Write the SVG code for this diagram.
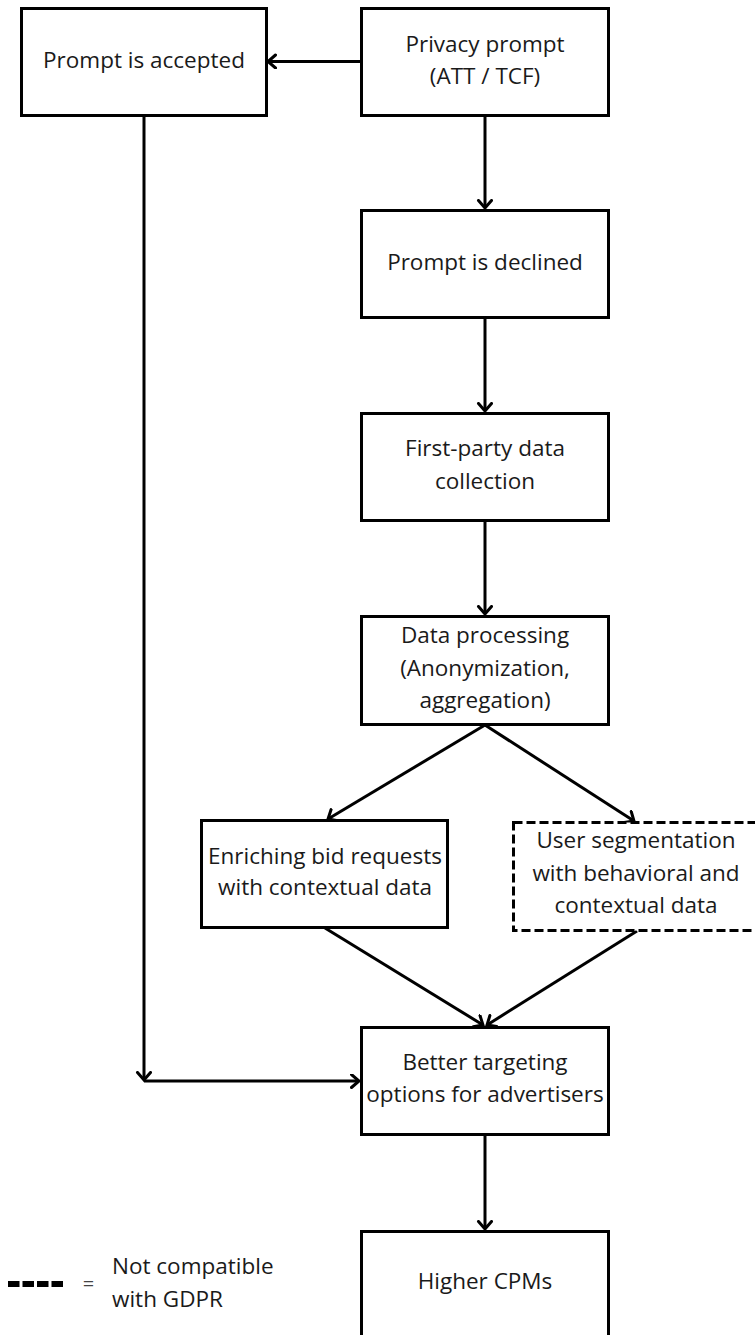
<svg xmlns="http://www.w3.org/2000/svg" width="755" height="1335" viewBox="0 0 755 1335">
<style>
.box{fill:#fff;stroke:#000;stroke-width:3}
.dash{stroke-dasharray:9 4}
.t{font-family:"Open Sans","Lato",sans-serif;font-size:22.5px;fill:#1a1a1a;text-anchor:middle}
.lg{font-family:"Open Sans","Lato",sans-serif;font-size:22.5px;fill:#1a1a1a}
.c{fill:none;stroke:#000;stroke-width:3}
</style>
<defs>
<marker id="ah" markerUnits="userSpaceOnUse" markerWidth="20" markerHeight="20" refX="9" refY="7.5" orient="auto">
<path d="M1.5,1 L9,7.5 L1.5,14" fill="none" stroke="#000" stroke-width="3" stroke-linecap="round" stroke-linejoin="miter"/>
</marker>
</defs>
<rect width="755" height="1335" fill="#fff"/>
<g id="connectors">
<line class="c" x1="361" y1="61.5" x2="268" y2="61.5" marker-end="url(#ah)"/>
<line class="c" x1="485" y1="116" x2="485" y2="208" marker-end="url(#ah)"/>
<line class="c" x1="485" y1="318" x2="485" y2="411" marker-end="url(#ah)"/>
<line class="c" x1="485" y1="521" x2="485" y2="614" marker-end="url(#ah)"/>
<line class="c" x1="485" y1="725" x2="328" y2="819" marker-end="url(#ah)"/>
<line class="c" x1="485" y1="725" x2="634" y2="821" marker-end="url(#ah)"/>
<line class="c" x1="325" y1="928" x2="483" y2="1025" marker-end="url(#ah)"/>
<line class="c" x1="637" y1="931" x2="487" y2="1025" marker-end="url(#ah)"/>
<line class="c" x1="144" y1="116" x2="144" y2="1080" marker-end="url(#ah)"/>
<line class="c" x1="144" y1="1081" x2="359" y2="1081" marker-end="url(#ah)"/>
<line class="c" x1="485" y1="1135" x2="485" y2="1229" marker-end="url(#ah)"/>
</g>
<g id="prompt-accepted">
<rect class="box" x="21.5" y="8.5" width="245" height="107"/>
<text class="t" x="144" y="68">Prompt is accepted</text>
</g>
<g id="privacy-prompt">
<rect class="box" x="361.5" y="8.5" width="247" height="107"/>
<text class="t" x="485" y="52">Privacy prompt</text>
<text class="t" x="485" y="84">(ATT / TCF)</text>
</g>
<g id="prompt-declined">
<rect class="box" x="361.5" y="210.5" width="247" height="107"/>
<text class="t" x="485" y="270">Prompt is declined</text>
</g>
<g id="first-party">
<rect class="box" x="361.5" y="413.5" width="247" height="107"/>
<text class="t" x="485" y="456">First-party data</text>
<text class="t" x="485" y="489">collection</text>
</g>
<g id="data-processing">
<rect class="box" x="361.5" y="616.5" width="247" height="108"/>
<text class="t" x="485" y="643">Data processing</text>
<text class="t" x="485" y="676">(Anonymization,</text>
<text class="t" x="485" y="708">aggregation)</text>
</g>
<g id="enriching">
<rect class="box" x="201.5" y="820.5" width="246" height="107"/>
<text class="t" x="325" y="864">Enriching bid requests</text>
<text class="t" x="325" y="895">with contextual data</text>
</g>
<g id="user-segmentation">
<rect class="box dash" x="513.5" y="822.5" width="247" height="108"/>
<text class="t" x="636" y="848">User segmentation</text>
<text class="t" x="636" y="881">with behavioral and</text>
<text class="t" x="636" y="913">contextual data</text>
</g>
<g id="better-targeting">
<rect class="box" x="361.5" y="1027.5" width="247" height="107"/>
<text class="t" x="485" y="1070">Better targeting</text>
<text class="t" x="485" y="1102">options for advertisers</text>
</g>
<g id="higher-cpms">
<rect class="box" x="361.5" y="1231.5" width="247" height="110"/>
<text class="t" x="485" y="1289">Higher CPMs</text>
</g>
<g id="legend">
<line x1="8" y1="1284" x2="63" y2="1284" stroke="#000" stroke-width="6" stroke-dasharray="11.5 3"/>
<text x="88.5" y="1291" font-family="Open Sans, sans-serif" font-size="20" fill="#444" text-anchor="middle">=</text>
<text class="lg" x="112" y="1274">Not compatible</text>
<text class="lg" x="112" y="1307">with GDPR</text>
</g>
</svg>
